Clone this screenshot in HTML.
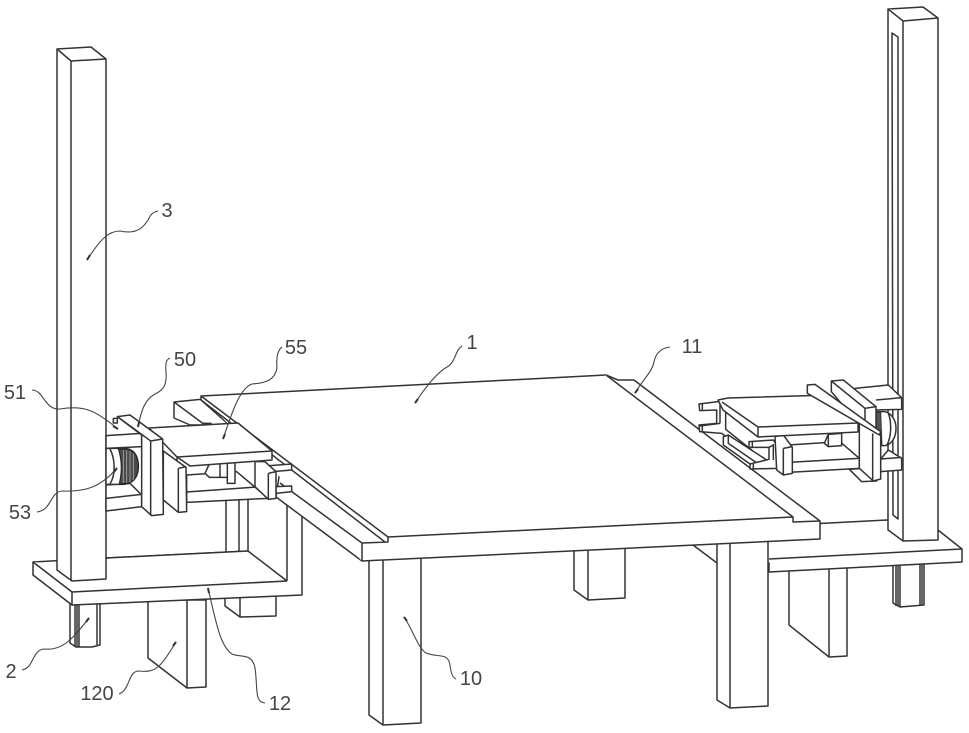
<!DOCTYPE html>
<html><head><meta charset="utf-8"><style>
html,body{margin:0;padding:0;background:#fff}
svg{display:block}
.o{fill:#fff;stroke:#333;stroke-width:1.5;stroke-linejoin:round}
.z{fill:#fff;stroke:#333;stroke-width:4.5;stroke-linejoin:round}
.l{fill:none;stroke:#333;stroke-width:4.5}
.d{fill:none;stroke:#444;stroke-width:1.1}
.a{fill:none;stroke:#333;stroke-width:2}
text{font-family:"Liberation Sans","Noto Sans CJK JP",sans-serif;font-size:20px;fill:#444;text-anchor:middle}
</style></head><body>
<svg width="969" height="733" viewBox="0 0 969 733" xmlns="http://www.w3.org/2000/svg">
<rect width="969" height="733" fill="#fff"/>

<!-- back legs -->
<polygon class="o" points="574,545 625,545 625,598 588,600 574,590"/><path class="o" d="M588,545V600"/>
<polygon class="o" points="225,590 276,590 276,616 240,617 225,606"/><path class="o" d="M240,595V617"/>
<polygon class="o" points="148,600 206,600 206,687 187,688 148,658"/><path class="o" d="M187,600V688"/>
<polygon class="o" points="789,565 847,565 847,656 829,657 789,625"/><path class="o" d="M829,565V657"/>
<!-- left foot -->
<polygon class="o" points="70,604 100,602 100,645 92,647 76,647 70,643"/>
<path class="o" d="M75,604V647M77,604V647M79,604V647M97,603V645"/>
<!-- right foot -->
<polygon class="o" points="893,565 924,564 924,605 900,607 893,603"/>
<path class="o" d="M896,565V606M898,565V606M900,565V607M920,565V605M922,565V605"/>

<!-- right platform -->
<polygon class="o" points="693,530 887,520 938,530 962,549 962,562 769,572 769,563 717,563 693,545"/>
<path class="o" d="M769,559L962,549"/>

<!-- right front leg -->
<polygon class="o" points="717,540 768,540 768,706 730,708 717,700"/><path class="o" d="M730,543V708"/>

<!-- left front leg -->
<polygon class="o" points="369,555 421,555 421,723 383,725 369,715"/><path class="o" d="M383,560V725"/>

<!-- right post -->
<polygon class="o" points="888,9 923,7 938,18 938,540 903,541 888,530"/>
<path class="o" d="M888,9L903,21L938,18M903,21V541"/>
<polygon class="o" points="892,33 898,37 898,519 893,515"/>

<!-- left platform -->
<polygon class="o" points="33,562 106,558 248,551 248,495 302,495 302,595 72,605 33,575"/>
<path class="o" d="M33,562L72,592L287,581M72,592V605M106,558L248,551L287,581"/>
<path class="o" d="M226,490V552M239,490V552M287,490V581"/>

<!-- left post -->
<polygon class="o" points="57,49 91,47 106,59 106,579 72,581 57,570"/>
<path class="o" d="M57,49L71,61L106,59M71,61V581"/>

<!-- left back rail -->
<polygon class="o" points="174,402 204,399 240,425 190,425 174,418"/>
<path class="o" d="M174,402L205,425"/>

<!-- table -->
<polygon class="o" points="201,396 606,375 618,380 634,380 820,521 820,539 362,561 276,497 280,470 201,400"/>
<path class="o" d="M201,396L388,537V542L362,543V561M201,400L385,542M280,483L362,543"/>
<path class="o" d="M388,537L793,517L606,375M793,517V522L820,521"/>

<!-- left assembly rear -->
<g transform="translate(190,390) scale(.33333)">
 <polygon class="z" points="-10,255 140,245 235,325 -10,337"/>
 <path class="l" d="M-10,306L215,290"/>
 <polygon class="z" points="58,222 135,218 135,280 112,280 112,262 58,262 45,250"/>
 <path class="l" d="M90,220V262M112,220V262"/>
 <polygon class="z" points="225,228 305,222 305,240 235,246"/>
 <polygon class="z" points="258,290 305,288 305,305 258,310"/>
</g>
<!-- plate 55 -->
<polygon class="o" points="149,428 238,423 272,451 272,460 190,466 177,457"/>
<path class="o" d="M177,457L272,451M177,457V463"/>
<g transform="translate(190,390) scale(.33333)">
 <polygon class="z" points="195,215 225,215 258,245 258,325 235,328 195,290"/>
 <path class="l" d="M235,250L258,245M235,250V328"/>
 <path class="l" d="M38,100H65"/>
</g>
<g transform="translate(100,405) scale(.33333)">
 <polygon class="z" points="190,138 258,187 260,320 235,322 190,285"/>
 <path class="l" d="M235,190L258,185M235,190V322"/>
 <rect class="z" x="40" y="40" width="12" height="14"/>
 <polygon class="z" points="18,92 125,85 125,125 18,130"/>
 <polygon class="z" points="18,240 90,235 125,270 125,305 18,318"/>
 <path class="l" d="M18,280L125,268"/>
 <path class="z" d="M18,130H70C100,130 115,150 115,185C115,215 100,236 70,238H18Z"/>
 <path d="M55,132H72C100,132 115,150 115,185C115,215 100,236 72,236H58C66,200 66,165 55,132Z" fill="#4a4a4a" stroke="#222" stroke-width="3"/>
 <path d="M70,135V234M80,135V234M90,138V232M100,145V225" stroke="#aaa" stroke-width="2.5"/>
 <path class="l" d="M30,132C45,160 48,210 30,236"/>
 <polygon class="z" points="52,35 90,30 188,102 190,328 155,332 125,305 125,90"/>
 <path class="l" d="M52,35L152,108L188,102M152,108V332"/>
</g>

<!-- right assembly -->
<g transform="translate(790,375) scale(.33333)">
 <polygon class="z" points="195,40 295,30 335,68 335,103 255,105 195,70"/>
 <path class="l" d="M258,75L335,68"/>
 <polygon class="z" points="272,252 295,225 335,250 335,285 272,290"/>
 <path class="l" d="M272,252L335,247"/>
 <path class="z" d="M255,110H285C305,115 318,135 318,160C318,188 305,208 285,212H255Z"/>
 <path class="l" d="M295,115C305,140 305,185 290,212"/>
 <path d="M258,112H272L276,210H260Z" fill="#555" stroke="#333" stroke-width="3"/>
 <polygon class="z" points="-5,210 150,200 208,250 208,280 -5,292"/>
 <path class="l" d="M-5,262L205,250"/>
 <polygon class="z" points="115,178 155,175 155,212 115,215 103,205"/>
 <path class="l" d="M115,178V215"/>
 <polygon class="z" points="178,283 215,280 260,318 215,320"/>
</g>
<g transform="translate(695,390) scale(.33333)">
 <polygon class="z" points="12,42 75,34 92,45 92,118 170,180 170,195 80,130 14,125 12,105 65,100 65,60 14,62"/>
 <path class="l" d="M22,40V60M22,105V125M75,34V100M14,108L75,100"/>
 <polygon class="z" points="85,140 100,135 215,210 215,220 165,222 85,165"/>
 <path class="l" d="M100,135V160L205,232"/>
 <polygon class="z" points="162,155 235,150 245,165 245,235 165,237 165,222 222,208 222,172 162,172"/>
 <path class="l" d="M172,155V172M175,222V237M222,172L235,165V210"/>
 <polygon class="z" points="240,140 265,135 292,172 292,250 265,255 245,240"/>
 <path class="l" d="M265,175L292,170M265,175V255"/>
</g>
<polygon class="o" points="718,400 728,398 830,395 858,423 858,432 758,437 723,410"/>
<path class="o" d="M758,427L858,423M758,427V437M722,402L758,427"/>
<g transform="translate(790,375) scale(.33333)">
 <polygon class="z" points="124,18 160,15 258,95 258,170 272,175 272,312 250,318 208,280 208,150 124,50"/>
 <path class="l" d="M124,18L225,100L258,95M225,100V140M248,175V318"/>
 <polygon class="z" points="52,30 75,28 272,170 268,180 52,55"/>
</g>

<!-- leaders -->
<path class="d" d="M87,260C100,240 108,231 120,231C134,234 142,230 148,220C151,214 153,212 158,211"/>
<path class="d" d="M138,427C141,412 144,400 155,394C164,390 167,384 166,372C165,362 167,359 170,358"/>
<path class="d" d="M223,439C232,412 240,388 252,384C266,383 275,380 277,368C276,356 278,350 282,347"/>
<path class="d" d="M415,403C427,385 438,372 447,367C456,362 455,350 462,346"/>
<path class="d" d="M635,393C644,378 652,372 654,362C656,352 662,348 670,347"/>
<path class="d" d="M32,390C44,390 44,410 60,409C84,405 95,410 118,429"/>
<path class="d" d="M37,512C52,510 50,492 62,491C84,492 100,488 117,468"/>
<path class="d" d="M22,670C34,668 32,650 44,649C62,651 72,640 89,618"/>
<path class="d" d="M119,694C130,690 128,672 138,671C156,673 160,668 176,642"/>
<path class="d" d="M265,703C254,702 258,688 255,668C252,652 240,658 232,654C220,646 216,622 208,588"/>
<path class="d" d="M404,617C414,632 418,648 426,653C438,658 448,652 450,665C451,674 453,678 456,679"/>
<path class="a" d="M87,260L90,255M138,427L139,422M223,439L225,434M415,403L418,399M635,393L638,389M118,429L113,426M117,468L114,472M89,618L86,622M176,642L173,646M208,588L209,593M404,617L407,621"/>

<text x="167" y="217">3</text>
<text x="185" y="366">50</text>
<text x="296" y="354">55</text>
<text x="472" y="349">1</text>
<text x="692" y="353">11</text>
<text x="15" y="399">51</text>
<text x="20" y="519">53</text>
<text x="11" y="678">2</text>
<text x="97" y="700">120</text>
<text x="280" y="710">12</text>
<text x="471" y="685">10</text>
</svg>
</body></html>
